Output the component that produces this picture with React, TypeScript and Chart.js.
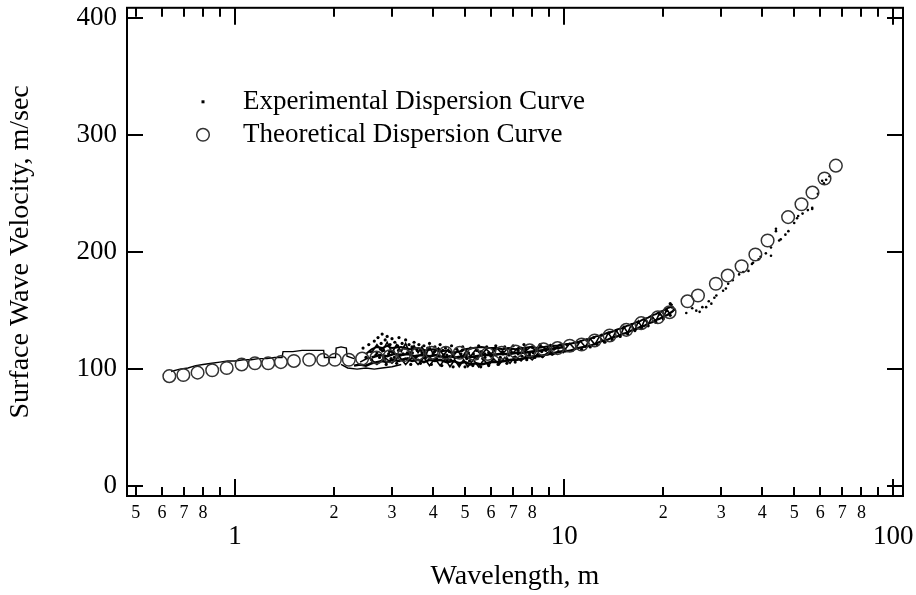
import React, { useEffect, useRef } from "react";
import { Chart, registerables } from "chart.js";

Chart.register(...registerables);

// ---------- axes ----------
const xMin = 0.47;
const xMax = 107;
const yMin = -8.5;
const yMax = 409;
const xTickValues = [0.5, 0.6, 0.7, 0.8, 0.9, 1, 2, 3, 4, 5, 6, 7, 8, 9, 10, 20, 30, 40, 50, 60, 70, 80, 90, 100];
const xMajorValues = [1, 10, 100];
const xTickLabels = ["5", "6", "7", "8", "", "1", "2", "3", "4", "5", "6", "7", "8", "", "10", "2", "3", "4", "5", "6", "7", "8", "", "100"];
const yTickValues = [0, 100, 200, 300, 400];
const yTickLabels = ["0", "100", "200", "300", "400"];

// ---------- theoretical dispersion curve (circles) ----------
const theoryX = [0.632, 0.697, 0.77, 0.853, 0.944, 1.048, 1.15, 1.262, 1.379, 1.51, 1.681, 1.853, 2.012, 2.218, 2.434, 2.692, 2.954, 3.26, 3.59, 3.96, 4.37, 4.82, 5.31, 5.86, 6.46, 7.12, 7.86, 8.66, 9.55, 10.4, 11.3, 12.38, 13.75, 15.45, 17.15, 19.26, 20.9, 23.7, 25.5, 28.9, 31.4, 34.6, 38.1, 41.5, 47.9, 52.6, 56.8, 61.8, 66.9];
const theoryY = [94, 95, 97, 99, 101, 104, 105, 105, 106, 107, 108, 108, 108, 108, 109, 110, 111, 112, 113, 114, 114, 114, 113, 113, 114, 115, 116, 117, 118, 120, 121, 124.5, 128.8, 133.6, 139.3, 144.4, 148.7, 158, 163, 173, 180, 188, 198, 210, 230, 241, 251, 263, 274];

// ---------- experimental dispersion curve (dots / traces) ----------
const expEarlyTrace: [number, number][] = [
  [0.64, 98], [0.68, 100], [0.72, 101], [0.76, 103], [0.8, 104], [0.85, 105], [0.9, 106], [0.95, 107], [1.0, 107],
  [1.06, 108], [1.12, 108], [1.18, 109], [1.25, 109], [1.32, 110], [1.39, 110], [1.4, 115], [1.5, 115], [1.6, 116],
  [1.7, 116], [1.8, 116], [1.86, 116], [1.87, 110], [1.95, 110], [2.02, 110], [2.03, 118], [2.1, 119], [2.18, 118],
  [2.19, 111], [2.3, 109],
];
const expBottomTrace: [number, number][] = [
  [2.1, 104], [2.2, 101], [2.35, 100], [2.5, 101], [2.65, 100], [2.8, 101], [3.0, 102], [3.2, 104],
];
const expLowTrace: [number, number][] = [
  [2.3, 103], [2.4, 104], [2.5, 103], [2.6, 105], [2.7, 106], [2.8, 107], [2.9, 106], [3.0, 108], [3.15, 107],
  [3.3, 109], [3.45, 107], [3.6, 108], [3.75, 106], [3.9, 108], [4.05, 107], [4.2, 108], [4.4, 106], [4.6, 107],
  [4.8, 105], [5.0, 106], [5.2, 104], [5.4, 105], [5.6, 104], [5.8, 105], [6.0, 106], [6.3, 106], [6.6, 107],
  [6.9, 108], [7.2, 108], [7.5, 109], [7.8, 110], [8.1, 111], [8.4, 111], [8.7, 112], [9.0, 113], [9.4, 114],
  [9.8, 115], [10.2, 116],
];
const expHighTrace: [number, number][] = [
  [2.5, 113], [2.6, 117], [2.7, 119], [2.8, 118], [2.9, 120], [3.0, 118], [3.2, 119], [3.4, 117], [3.6, 118],
  [3.8, 116], [4.0, 117], [4.2, 115], [4.4, 116], [4.6, 114], [4.8, 115], [5.0, 117], [5.3, 118], [5.6, 119],
  [5.9, 118], [6.2, 118], [6.5, 117], [6.8, 118], [7.1, 117], [7.5, 118], [7.9, 119], [8.3, 118], [8.7, 119],
  [9.1, 120], [9.5, 120], [10.0, 121],
];
const expMidTrace: [number, number][] = [
  [2.6, 110], [2.75, 112], [2.9, 111], [3.05, 113], [3.2, 112], [3.35, 113], [3.5, 111], [3.7, 112], [3.9, 111],
  [4.1, 112], [4.3, 110], [4.5, 111], [4.7, 110], [4.9, 111], [5.1, 110], [5.4, 111], [5.7, 112], [6.0, 112],
  [6.4, 113], [6.8, 113], [7.2, 114], [7.6, 114], [8.0, 115], [8.5, 116], [9.0, 117], [9.5, 118], [10.0, 119],
];
const expUpperZig: [number, number][] = [
  [2.6, 114], [2.7, 121], [2.8, 115], [2.9, 123], [3.0, 114], [3.1, 121], [3.2, 115], [3.3, 122], [3.4, 113],
  [3.5, 120], [3.6, 114], [3.7, 119], [3.8, 112], [3.9, 119], [4.0, 113], [4.15, 118], [4.3, 112], [4.45, 117],
  [4.6, 111], [4.75, 116], [4.9, 110], [5.05, 116], [5.2, 111], [5.4, 117], [5.6, 112], [5.8, 117], [6.0, 113],
  [6.25, 118], [6.5, 113], [6.75, 118], [7.0, 114], [7.3, 119], [7.6, 115], [7.9, 119], [8.2, 116], [8.5, 120],
  [8.8, 117], [9.1, 121], [9.4, 118], [9.7, 121], [10.0, 119],
];
const expLowerZig: [number, number][] = [
  [2.4, 106], [2.55, 110], [2.7, 104], [2.85, 110], [3.0, 105], [3.15, 111], [3.3, 104], [3.45, 110], [3.6, 104],
  [3.75, 110], [3.9, 103], [4.05, 109], [4.2, 103], [4.35, 109], [4.5, 102], [4.65, 108], [4.8, 102], [4.95, 108],
  [5.1, 102], [5.3, 108], [5.5, 102], [5.7, 108], [5.9, 103], [6.1, 109], [6.35, 104], [6.6, 110], [6.85, 105],
  [7.1, 111], [7.4, 107], [7.7, 112], [8.0, 108], [8.3, 113], [8.6, 110], [8.9, 114], [9.2, 112], [9.6, 115],
  [10.0, 114],
];
const expBandDots: [number, number][] = [
  [2.45, 118], [2.55, 121], [2.6, 108], [2.65, 124], [2.7, 114], [2.72, 127], [2.75, 110], [2.78, 122], [2.8, 130],
  [2.83, 116], [2.86, 125], [2.88, 104], [2.9, 128], [2.93, 113], [2.96, 121], [2.98, 109], [3.0, 126], [3.03, 115],
  [3.06, 123], [3.1, 105], [3.12, 120], [3.15, 127], [3.18, 112], [3.22, 122], [3.25, 108], [3.28, 118], [3.3, 125],
  [3.34, 114], [3.38, 121], [3.42, 104], [3.45, 119], [3.5, 123], [3.54, 110], [3.58, 116], [3.62, 121], [3.66, 105],
  [3.7, 114], [3.75, 120], [3.8, 110], [3.85, 118], [3.9, 122], [3.95, 104], [4.0, 113], [4.05, 119], [4.1, 109],
  [4.15, 117], [4.2, 121], [4.25, 103], [4.3, 112], [4.36, 118], [4.42, 108], [4.48, 115], [4.55, 120], [4.6, 102],
  [4.66, 110], [4.72, 117], [4.8, 104], [4.86, 113], [4.92, 119], [5.0, 102], [5.06, 109], [5.12, 114], [5.2, 118],
  [5.28, 103], [5.35, 110], [5.42, 116], [5.5, 120], [5.58, 102], [5.66, 109], [5.74, 113], [5.82, 119], [5.9, 103],
  [6.0, 111], [6.1, 116], [6.2, 120], [6.3, 104], [6.4, 110], [6.5, 115], [6.6, 119], [6.7, 105], [6.8, 112],
  [6.9, 117], [7.0, 120], [7.1, 106], [7.25, 113], [7.4, 118], [7.55, 121], [7.7, 108], [7.85, 114], [8.0, 119],
  [8.15, 110], [8.3, 116], [8.45, 121], [8.6, 111], [8.75, 117], [8.9, 113], [9.05, 120], [9.2, 114], [9.4, 118],
  [9.6, 115], [9.8, 121], [10.0, 117],
];
const expCoreDots: [number, number][] = [
  [2.5, 110], [2.58, 115], [2.68, 112], [2.77, 117], [2.85, 109], [2.95, 115], [3.05, 110], [3.14, 116], [3.24, 113],
  [3.35, 109], [3.46, 114], [3.57, 111], [3.68, 116], [3.8, 113], [3.92, 109], [4.04, 115], [4.16, 111], [4.28, 116],
  [4.4, 112], [4.52, 108], [4.64, 114], [4.76, 110], [4.9, 116], [5.02, 112], [5.16, 107], [5.3, 113], [5.45, 109],
  [5.6, 115], [5.75, 110], [5.9, 114], [6.05, 107], [6.2, 112], [6.36, 108], [6.52, 113], [6.7, 109], [6.88, 114],
  [7.05, 110], [7.25, 116], [7.45, 111], [7.65, 117], [7.85, 112], [8.05, 114], [8.3, 112], [8.55, 115], [8.8, 116],
  [9.05, 115], [9.3, 117], [9.6, 118], [9.9, 119],
];
const expRightLowTrace: [number, number][] = [
  [10.0, 115], [10.5, 116], [11.0, 118], [11.5, 119], [12.0, 120], [12.5, 122], [13.0, 124], [13.5, 125], [14.0, 127],
  [14.5, 128], [15.0, 130], [15.5, 131], [16.0, 133], [16.5, 134], [17.0, 136], [17.5, 137], [18.0, 139], [18.5, 140],
  [19.0, 142], [19.5, 143], [20.0, 145], [20.5, 146], [21.0, 148], [21.5, 150],
];
const expRightHighTrace: [number, number][] = [
  [10.0, 121], [10.5, 122], [11.0, 123], [11.5, 125], [12.0, 126], [12.5, 128], [13.0, 129], [13.5, 131], [14.0, 132],
  [14.5, 134], [15.0, 135], [15.5, 137], [16.0, 138], [16.5, 140], [17.0, 141], [17.5, 143], [18.0, 144], [18.5, 146],
  [19.0, 147], [19.5, 149], [20.0, 150], [20.5, 152], [21.0, 153], [21.3, 156],
];
const expRightZig: [number, number][] = [
  [10.0, 116], [10.4, 122], [10.8, 117], [11.2, 124], [11.6, 119], [12.0, 126], [12.4, 121], [12.8, 128], [13.2, 123],
  [13.6, 131], [14.0, 126], [14.4, 133], [14.8, 128], [15.2, 136], [15.6, 131], [16.0, 138], [16.4, 133], [16.8, 141],
  [17.2, 136], [17.6, 143], [18.0, 138], [18.5, 145], [19.0, 141], [19.5, 148], [20.0, 144], [20.5, 151], [21.0, 147],
];
const expRightDots: [number, number][] = [
  [10.2, 121], [10.6, 116], [11.0, 123], [11.3, 117], [11.7, 125], [12.0, 119], [12.3, 127], [12.6, 121], [13.0, 129],
  [13.3, 123], [13.7, 131], [14.0, 125], [14.4, 133], [14.8, 128], [15.2, 136], [15.6, 130], [16.0, 138], [16.4, 133],
  [16.8, 140], [17.2, 135], [17.6, 142], [18.0, 137], [18.5, 144], [19.0, 140], [19.5, 147], [20.0, 143], [20.5, 150],
  [21.0, 146], [21.0, 156], [21.3, 153], [21.6, 151],
];
const expTailDots: [number, number][] = [
  [23.5, 148], [24.5, 152], [25.2, 150], [25.8, 149], [26.3, 153], [27.0, 153], [27.5, 158], [28.0, 156], [28.6, 161],
  [29.0, 163], [30.4, 167], [31.0, 169], [31.5, 173], [32.5, 176], [34.0, 181], [35.0, 183], [36.3, 184], [37.2, 190],
  [37.5, 191], [39.0, 194], [39.5, 196], [41.0, 199], [42.5, 197], [42.5, 204], [44.0, 218], [44.0, 220], [45.0, 210],
  [45.5, 211], [47.0, 215], [48.0, 218], [50.0, 225], [51.0, 229], [51.4, 231], [53.0, 233], [55.0, 236], [56.7, 237],
  [56.7, 238], [59.0, 250], [60.8, 261], [61.5, 259], [62.5, 262], [64.0, 265],
];

const legendLabels = ["Experimental Dispersion Curve", "Theoretical Dispersion Curve"];

const SERIF = "'Liberation Serif', 'Times New Roman', serif";

const toPts = (pairs: [number, number][]) => pairs.map(([x, y]) => ({ x, y }));

const framePlugin = {
  id: "frameAndLegend",
  afterDatasetsDraw(chart: any) {
    const { ctx, chartArea, scales } = chart;
    const { left, right, top, bottom } = chartArea;
    const xs = scales.x;
    const ys = scales.y;
    ctx.save();
    ctx.strokeStyle = "#000";
    ctx.lineWidth = 2;
    ctx.strokeRect(left, top, right - left, bottom - top);
    ctx.beginPath();
    xTickValues.forEach((v) => {
      const px = Math.round(xs.getPixelForValue(v));
      const len = xMajorValues.includes(v) ? 17 : 9;
      ctx.moveTo(px, bottom);
      ctx.lineTo(px, bottom - len);
      ctx.moveTo(px, top);
      ctx.lineTo(px, top + len);
    });
    yTickValues.forEach((v) => {
      const py = Math.round(ys.getPixelForValue(v));
      ctx.moveTo(left, py);
      ctx.lineTo(left + 16, py);
      ctx.moveTo(right, py);
      ctx.lineTo(right - 16, py);
    });
    ctx.stroke();

    // legend inside plot
    const lx = left + 76;
    const ly1 = top + 94;
    const ly2 = top + 127;
    ctx.fillStyle = "#000";
    ctx.fillRect(lx - 1.5, ly1 - 1.5, 3, 3);
    ctx.beginPath();
    ctx.lineWidth = 1.5;
    ctx.strokeStyle = "#333";
    ctx.arc(lx, ly2, 6.3, 0, Math.PI * 2);
    ctx.stroke();
    ctx.font = `27px ${SERIF}`;
    ctx.textBaseline = "middle";
    ctx.textAlign = "left";
    ctx.fillStyle = "#000";
    ctx.fillText(legendLabels[0], left + 116, ly1);
    ctx.fillText(legendLabels[1], left + 116, ly2);
    ctx.restore();
  },
};

export default function App() {
  const canvasRef = useRef<HTMLCanvasElement | null>(null);

  useEffect(() => {
    document.body.style.margin = "0";
    const canvas = canvasRef.current;
    if (!canvas) return;

    const traceStyle = {
      showLine: true,
      pointRadius: 0,
      borderColor: "#000",
      borderWidth: 1.4,
      fill: false,
      tension: 0,
    };
    const dotStyle = {
      showLine: false,
      pointRadius: 1.6,
      pointBorderWidth: 0,
      backgroundColor: "#000",
      borderColor: "#000",
    };

    const chart = new Chart(canvas, {
      type: "scatter",
      data: {
        datasets: [
          {
            label: legendLabels[1],
            data: theoryX.map((x, i) => ({ x, y: theoryY[i] })),
            showLine: false,
            pointRadius: 6.3,
            pointBorderWidth: 1.5,
            borderColor: "#333",
            backgroundColor: "rgba(0,0,0,0)",
          },
          { label: "exp-early", data: toPts(expEarlyTrace), ...traceStyle },
          { label: "exp-bottom", data: toPts(expBottomTrace), ...traceStyle },
          { label: "exp-low", data: toPts(expLowTrace), ...traceStyle, borderWidth: 2.5 },
          { label: "exp-high", data: toPts(expHighTrace), ...traceStyle, borderWidth: 2 },
          { label: "exp-mid", data: toPts(expMidTrace), ...traceStyle, borderWidth: 2.5 },
          { label: "exp-upper-zig", data: toPts(expUpperZig), ...traceStyle, borderWidth: 1.6 },
          { label: "exp-lower-zig", data: toPts(expLowerZig), ...traceStyle, borderWidth: 1.6 },
          { label: "exp-right-low", data: toPts(expRightLowTrace), ...traceStyle, borderWidth: 2.2 },
          { label: "exp-right-high", data: toPts(expRightHighTrace), ...traceStyle, borderWidth: 2 },
          { label: "exp-right-zig", data: toPts(expRightZig), ...traceStyle, borderWidth: 1.6 },
          { label: "exp-band", data: toPts(expBandDots), ...dotStyle },
          { label: "exp-core", data: toPts(expCoreDots), ...dotStyle },
          { label: "exp-right", data: toPts(expRightDots), ...dotStyle },
          { label: legendLabels[0], data: toPts(expTailDots), ...dotStyle, pointRadius: 1.3 },
        ],
      },
      options: {
        responsive: false,
        animation: false,
        devicePixelRatio: 1,
        layout: { padding: { top: 6, right: 13, left: 0, bottom: 0 } },
        plugins: {
          legend: { display: false },
          tooltip: { enabled: false },
        },
        scales: {
          x: {
            type: "logarithmic",
            min: xMin,
            max: xMax,
            grid: { display: false, drawTicks: false },
            border: { display: false },
            afterBuildTicks: (s: any) => {
              s.ticks = xTickValues.map((v) => ({ value: v, major: xMajorValues.includes(v) }));
            },
            afterFit: (s: any) => {
              s.height = 99;
              s.paddingLeft = 0;
              s.paddingRight = 0;
            },
            ticks: {
              autoSkip: false,
              maxRotation: 0,
              minRotation: 0,
              padding: 6,
              color: "#000",
              font: (c: any) => {
                const v = c.tick ? c.tick.value : 0;
                return xMajorValues.includes(v)
                  ? { family: SERIF, size: 27, lineHeight: 0.85 }
                  : { family: SERIF, size: 18, lineHeight: 1.2 };
              },
              callback: (value: any, index: number) => {
                const lbl = xTickLabels[index];
                return xMajorValues.includes(xTickValues[index]) ? ["", lbl] : lbl;
              },
            },
            title: {
              display: true,
              text: "Wavelength, m",
              color: "#000",
              font: { family: SERIF, size: 28 },
              padding: { top: 0, bottom: 2 },
            },
          },
          y: {
            type: "linear",
            min: yMin,
            max: yMax,
            grid: { display: false, drawTicks: false },
            border: { display: false },
            afterBuildTicks: (s: any) => {
              s.ticks = yTickValues.map((v) => ({ value: v }));
            },
            afterFit: (s: any) => {
              s.width = 127;
              s.paddingTop = 0;
              s.paddingBottom = 0;
            },
            ticks: {
              padding: 10,
              color: "#000",
              font: { family: SERIF, size: 27 },
              callback: (value: any, index: number) => yTickLabels[index],
            },
            title: {
              display: true,
              text: "Surface Wave Velocity, m/sec",
              color: "#000",
              font: { family: SERIF, size: 28 },
              padding: { top: 4, bottom: 0 },
            },
          },
        },
      },
      plugins: [framePlugin],
    } as any);

    return () => chart.destroy();
  }, []);

  return (
    <div style={{ width: 916, height: 595 }}>
      <canvas ref={canvasRef} width={916} height={595} style={{ display: "block" }} />
    </div>
  );
}
